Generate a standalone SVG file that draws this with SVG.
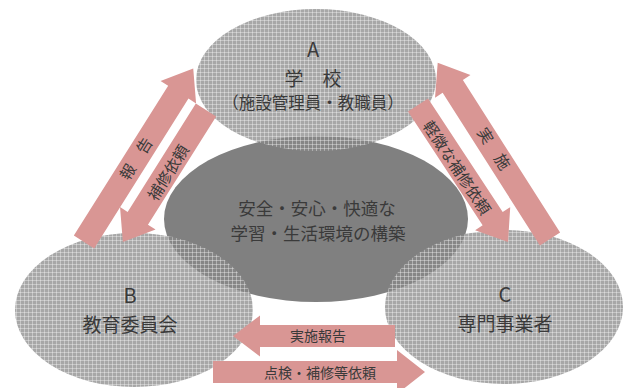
<svg xmlns="http://www.w3.org/2000/svg" width="629" height="388" viewBox="0 0 629 388">
<defs>
<pattern id="dots" width="4" height="4" patternUnits="userSpaceOnUse">
<rect width="4" height="4" fill="#888888" fill-opacity="0.74"/>
<rect x="0" y="0" width="4" height="1" fill="#ffffff" fill-opacity="0.35"/>
<rect x="0" y="0" width="1" height="4" fill="#ffffff" fill-opacity="0.35"/>
</pattern>
<style>
.t{font-family:"Noto Sans CJK JP","Noto Sans",sans-serif;fill:#3a3a3a;text-anchor:middle;dominant-baseline:central}
.ell{fill:url(#dots)}
.arr{fill:#d99694}
</style>
</defs>
<rect width="629" height="388" fill="#ffffff"/>
<g id="center">
<ellipse cx="316" cy="219" rx="152" ry="83" fill="#808080"/>
</g>
<g id="nodeA">
<ellipse class="ell" cx="316" cy="80" rx="120" ry="71"/>
<text class="t" x="313" y="48" font-size="20">A</text>
<text class="t" x="313" y="77" font-size="19">学　校</text>
<text class="t" x="313" y="102" font-size="16.5">（施設管理員・教職員）</text>
</g>
<g id="nodeB">
<ellipse class="ell" cx="134" cy="310" rx="119" ry="77"/>
<text class="t" x="130" y="294" font-size="20">B</text>
<text class="t" x="130" y="323" font-size="19">教育委員会</text>
</g>
<g id="nodeC">
<ellipse class="ell" cx="504" cy="307" rx="119" ry="77"/>
<text class="t" x="505" y="293" font-size="20">C</text>
<text class="t" x="505" y="322" font-size="19">専門事業者</text>
</g>
<g id="centerText">
<text class="t" x="317" y="207" font-size="17.5">安全・安心・快適な</text>
<text class="t" x="318" y="232" font-size="17.5">学習・生活環境の構築</text>
</g>
<g id="connectors">
<polygon class="arr" transform="translate(84,242) rotate(-57.8)" points="0,-12 177,-12 177,-21 205,0 177,21 177,12 0,12"/>
<polygon class="arr" transform="translate(206,110) rotate(122.2)" points="0,-12 128,-12 128,-21 156,0 128,21 128,12 0,12"/>
<polygon class="arr" transform="translate(550,239) rotate(-122.5)" points="0,-12 181,-12 181,-21 209,0 181,21 181,12 0,12"/>
<polygon class="arr" transform="translate(418,105) rotate(56.7)" points="0,-12 136,-12 136,-21 164,0 136,21 136,12 0,12"/>
<polygon class="arr" points="395,325 260,325 260,315.5 233,336 260,356.5 260,347 395,347"/>
<polygon class="arr" points="213,361 397,361 397,350 425,372 397,394 397,383 213,383"/>
<text class="t" font-size="15.5" transform="translate(135,158) rotate(-57.8)">報　告</text>
<text class="t" font-size="15.5" transform="translate(167,172) rotate(-57.8)">補修依頼</text>
<text class="t" font-size="15.5" transform="translate(495,148) rotate(57.5)">実　施</text>
<text class="t" font-size="15.5" transform="translate(458,167) rotate(56.7)">軽微な補修依頼</text>
<text class="t" x="318" y="335" font-size="14">実施報告</text>
<text class="t" x="320" y="372" font-size="14">点検・補修等依頼</text>
</g>
</svg>
